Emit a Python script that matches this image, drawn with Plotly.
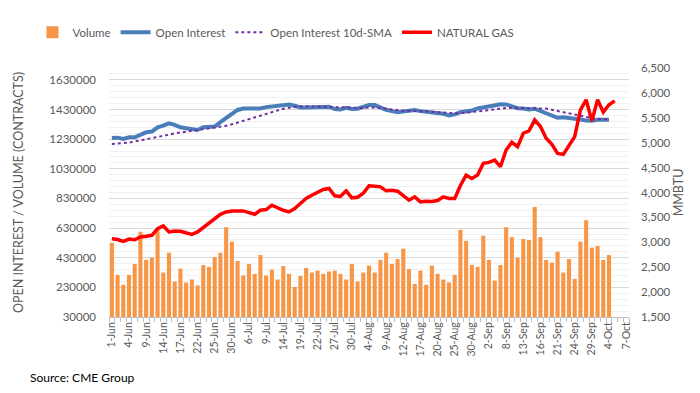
import pandas as pd
import plotly.graph_objects as go

# Trading-day categories (1-Jun-2021 .. 7-Oct-2021, US holidays removed)
holidays = ["2021-07-05", "2021-09-06"]
days = [d for d in pd.bdate_range("2021-06-01", "2021-10-07") if d.strftime("%Y-%m-%d") not in holidays]
categories = [f"{d.day}-{d.strftime('%b')}" for d in days]
tick_labels = categories[::3]

volume = [531000, 314000, 247000, 314000, 388000, 605000, 415000, 430000, 616000, 330000,
          464000, 269000, 357000, 263000, 283000, 243000, 381000, 368000, 435000, 464000,
          636000, 538000, 408000, 310000, 388000, 321000, 448000, 310000, 350000, 283000,
          374000, 321000, 233000, 307000, 361000, 330000, 343000, 321000, 337000, 343000,
          321000, 283000, 388000, 269000, 330000, 377000, 330000, 415000, 464000, 388000,
          421000, 491000, 354000, 254000, 343000, 247000, 377000, 321000, 283000, 263000,
          314000, 618000, 544000, 381000, 368000, 578000, 415000, 276000, 381000, 636000,
          569000, 430000, 556000, 549000, 773000, 569000, 415000, 397000, 471000, 330000,
          421000, 287000, 538000, 683000, 498000, 509000, 415000, 448000]

open_interest = [1238000, 1240000, 1232000, 1243000, 1243000, 1263000, 1276000, 1281000, 1310000, 1321000,
                 1337000, 1326000, 1310000, 1303000, 1298000, 1292000, 1310000, 1312000, 1315000, 1345000,
                 1370000, 1400000, 1427000, 1437000, 1437000, 1437000, 1437000, 1446000, 1452000, 1458000,
                 1462000, 1464000, 1455000, 1444000, 1444000, 1444000, 1444000, 1446000, 1449000, 1433000,
                 1430000, 1441000, 1433000, 1435000, 1451000, 1460000, 1460000, 1441000, 1428000, 1419000,
                 1412000, 1416000, 1423000, 1426000, 1419000, 1416000, 1410000, 1405000, 1401000, 1390000,
                 1397000, 1412000, 1419000, 1423000, 1437000, 1444000, 1449000, 1458000, 1466000, 1464000,
                 1449000, 1439000, 1437000, 1430000, 1435000, 1419000, 1403000, 1394000, 1374000, 1377000,
                 1374000, 1370000, 1363000, 1356000, 1354000, 1361000, 1361000, 1361000]

oi_sma10 = [1198000, 1200000, 1203000, 1207000, 1214000, 1221000, 1228000, 1236000, 1243000, 1251000,
            1260000, 1269000, 1275000, 1281000, 1287000, 1293000, 1298000, 1303000, 1308000, 1312000,
            1320000, 1330000, 1342000, 1355000, 1366000, 1378000, 1390000, 1402000, 1413000, 1424000,
            1435000, 1442000, 1448000, 1451000, 1452000, 1451000, 1450000, 1449000, 1448000, 1447000,
            1445000, 1443000, 1441000, 1438000, 1440000, 1444000, 1443000, 1440000, 1435000, 1430000,
            1424000, 1422000, 1421000, 1421000, 1420000, 1418000, 1415000, 1411000, 1408000, 1405000,
            1403000, 1405000, 1408000, 1412000, 1417000, 1421000, 1426000, 1432000, 1436000, 1440000,
            1441000, 1441000, 1441000, 1441000, 1441000, 1440000, 1436000, 1428000, 1420000, 1407000,
            1400000, 1394000, 1386000, 1378000, 1372000, 1368000, 1365000, 1363000]

natural_gas = [3070, 3055, 3020, 3066, 3052, 3106, 3120, 3140, 3274, 3328,
               3207, 3227, 3220, 3194, 3160, 3207, 3301, 3375, 3476, 3563,
               3610, 3630, 3630, 3630, 3597, 3563, 3644, 3657, 3745, 3691,
               3644, 3610, 3677, 3778, 3879, 3946, 4013, 4060, 4081, 3933,
               3920, 4034, 3893, 3905, 3985, 4134, 4127, 4114, 4034, 4047,
               4027, 3946, 3845, 3913, 3812, 3825, 3820, 3839, 3913, 3879,
               3879, 4140, 4349, 4282, 4349, 4585, 4605, 4652, 4518, 4853,
               5008, 4921, 5190, 5237, 5458, 5324, 5089, 4968, 4786, 4766,
               4955, 5122, 5660, 5862, 5438, 5862, 5613, 5761, 5841]

left_ticks = list(range(30000, 1630001, 200000))
right_ticks = list(range(1500, 6501, 500))

x_all = list(range(len(categories)))
x_vol = x_all[:len(volume)]
x_ng = x_all[:len(natural_gas)]
tick_pos = x_all[::3]

FONT = "Lato"
GREY = "#595959"

fig = go.Figure()
fig.add_trace(go.Bar(x=x_vol, y=volume, name="Volume", marker=dict(color="#F79646", line=dict(width=0)),
                     yaxis="y"))
fig.add_trace(go.Scatter(x=x_vol, y=open_interest, name="Open Interest", mode="lines",
                         line=dict(color="#4A7EBB", width=4), yaxis="y"))
fig.add_trace(go.Scatter(x=x_vol, y=oi_sma10, name="Open Interest 10d-SMA", mode="lines",
                         line=dict(color="#7030A0", width=2, dash="dot"), yaxis="y"))
fig.add_trace(go.Scatter(x=x_ng, y=natural_gas, name="NATURAL GAS", mode="lines",
                         line=dict(color="#FF0000", width=3.5), yaxis="y2"))

fig.update_layout(
    width=700, height=393,
    margin=dict(l=101, r=79, t=60, b=84, autoexpand=False),
    paper_bgcolor="white", plot_bgcolor="white",
    font=dict(family=FONT, color=GREY, size=11),
    bargap=0.28,
    showlegend=True,
    legend=dict(orientation="h", xref="container", yref="container", x=0.035, y=0.975,
                xanchor="left", yanchor="top", font=dict(size=11.5, color=GREY, family=FONT),
                itemwidth=30, traceorder="normal", tracegroupgap=0),
    xaxis=dict(range=[-0.5, len(categories) - 0.5], tickmode="array", tickvals=tick_pos,
               ticktext=tick_labels, tickangle=-90, tickfont=dict(size=10.5, color=GREY),
               showgrid=False, zeroline=False, showline=True, linecolor="#BFBFBF", linewidth=1,
               ticks="", minor=dict(tick0=-0.5, dtick=1, ticks="outside", ticklen=4,
                                    tickcolor="#BFBFBF", showgrid=False)),
    yaxis=dict(range=[30000, 1710000], tickmode="array", tickvals=left_ticks,
               ticktext=[str(v) for v in left_ticks], tickfont=dict(size=11.5, color=GREY),
               showgrid=True, gridcolor="#D9D9D9", gridwidth=1, zeroline=False,
               ticks="", ticklabelstandoff=12,
               minor=dict(tick0=30000, dtick=40000, showgrid=True, gridcolor="#F0F0F0"),
               title=dict(text="OPEN INTEREST / VOLUME (CONTRACTS)", font=dict(size=12.5, color=GREY),
                          standoff=22)),
    yaxis2=dict(range=[1500, 6500], overlaying="y", side="right", tickmode="array",
                tickvals=right_ticks, ticktext=[f"{v:,}" for v in right_ticks],
                tickfont=dict(size=11.5, color=GREY), showgrid=False, zeroline=False,
                ticks="", ticklabelstandoff=11,
                title=dict(text="MMBTU", font=dict(size=12.5, color=GREY), standoff=0)),
    annotations=[dict(text="Source: CME Group", xref="paper", yref="paper",
                      x=(20 - 101) / 520, y=-(369 - 309) / 249, xanchor="left", yanchor="middle",
                      showarrow=False, font=dict(size=12, color="black", family=FONT))],
)

fig.write_html("out.html")
